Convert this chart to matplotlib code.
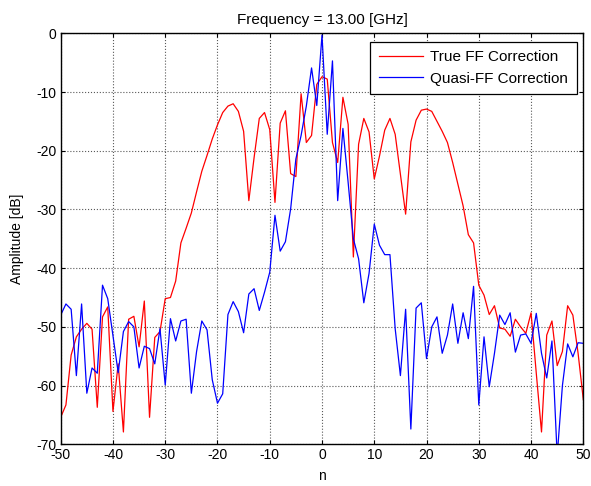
import matplotlib
matplotlib.use("Agg")
import matplotlib.pyplot as plt
import numpy as np

plt.rcParams['font.family'] = ['Liberation Sans', 'DejaVu Sans']
plt.rcParams['axes.unicode_minus'] = False

# sample index
n = np.arange(-50, 51)

# True FF correction, dB
true_ff = [-65.4, -63.3, -54.8, -51.7, -50.4, -49.4, -50.4, -63.7, -48.3, -46.6,
           -64.4, -56.3, -67.9, -48.7, -48.2, -53.4, -45.6, -65.4, -51.8, -50.8,
           -45.2, -45.0, -42.2, -35.7, -33.2, -30.6, -27.0, -23.5, -20.8, -18.0,
           -15.6, -13.5, -12.4, -12.0, -13.3, -16.7, -28.5, -21.2, -14.5, -13.5,
           -16.4, -28.8, -15.3, -13.2, -23.9, -24.4, -10.3, -18.6, -17.4, -8.7,
           -7.4, -7.8, -18.6, -22.0, -10.9, -15.5, -38.1, -18.9, -14.5, -16.8,
           -24.8, -20.9, -16.5, -14.5, -17.2, -24.0, -30.8, -18.5, -14.8, -13.1,
           -12.9, -13.3, -15.0, -16.7, -18.6, -22.0, -25.7, -29.4, -34.3, -35.7,
           -42.9, -44.6, -47.9, -46.4, -50.2, -50.4, -51.6, -48.7, -50.0, -51.1,
           -47.6, -57.9, -67.9, -51.4, -49.0, -56.6, -54.2, -46.4, -48.0, -54.5,
           -62.4]

# Quasi-FF correction, dB
quasi_ff = [-48.0, -46.1, -47.0, -58.3, -46.1, -61.3, -57.0, -57.9, -42.9, -45.2,
            -51.5, -57.8, -50.8, -49.1, -50.0, -57.0, -53.3, -53.7, -56.3, -50.3,
            -59.9, -48.6, -52.4, -49.0, -48.7, -61.3, -54.2, -49.0, -50.5, -59.0,
            -63.0, -61.4, -47.9, -45.7, -47.4, -51.0, -44.4, -43.5, -47.2, -44.1,
            -40.7, -31.0, -37.1, -35.5, -29.9, -21.4, -17.4, -12.4, -5.9, -12.3,
            -0.3, -17.2, -4.7, -28.5, -16.2, -25.4, -35.0, -38.4, -45.9, -40.9,
            -32.5, -36.1, -37.7, -37.7, -50.3, -58.3, -47.0, -67.4, -46.8, -45.9,
            -55.4, -50.0, -48.3, -54.5, -51.4, -46.1, -52.8, -47.6, -52.0, -43.1,
            -63.3, -51.7, -60.2, -54.5, -48.0, -49.6, -47.6, -54.3, -51.4, -51.2,
            -52.8, -47.7, -54.5, -58.7, -52.4, -72.0, -60.0, -52.9, -55.1, -52.7,
            -52.8]

xticks = list(range(-50, 51, 10))
yticks = list(range(-70, 1, 10))

fig = plt.figure(figsize=(5.91, 4.86), dpi=100)
ax = fig.add_axes([0.1027, 0.0858, 0.8843, 0.8457])

ax.plot(n, true_ff, color='#ff0000', lw=0.9, label='True FF Correction')
ax.plot(n, quasi_ff, color='#0000ff', lw=0.9, label='Quasi-FF Correction')

ax.set_xlim(-50, 50)
ax.set_ylim(-70, 0)
ax.set_xticks(xticks)
ax.set_yticks(yticks)
ax.tick_params(direction='in', top=True, right=True, length=3, width=0.8,
               labelsize=10, pad=3, colors='black')
ax.grid(True, linestyle=':', color='0.35', lw=0.8)
for s in ax.spines.values():
    s.set_linewidth(1.0)

ax.set_title('Frequency = 13.00 [GHz]', fontsize=11, pad=7)
ax.set_xlabel('n', fontsize=10, labelpad=5)
ax.set_ylabel('Amplitude [dB]', fontsize=10, labelpad=9)

leg = ax.legend(loc='upper right', bbox_to_anchor=(0.9874, 0.9796),
                borderaxespad=0, fontsize=11, fancybox=False, framealpha=1,
                edgecolor='black', handlelength=2.9, handletextpad=0.5,
                labelspacing=0.5, borderpad=0.55)
leg._legend_box.sep = 4
leg.get_frame().set_linewidth(0.9)

fig.savefig('out.png', dpi=100)
